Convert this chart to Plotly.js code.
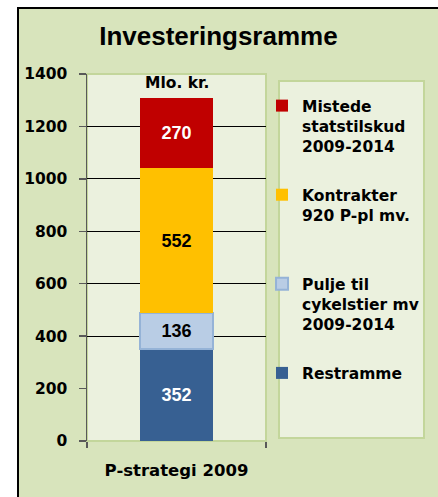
<!DOCTYPE html>
<html>
<head>
<meta charset="utf-8">
<script src="https://cdn.plot.ly/plotly-3.0.1.min.js"></script>
<style>
  html, body { margin: 0; padding: 0; background: #ffffff; }
  #frame { position: absolute; left: 17px; top: 7px; width: 419px; height: 488px;
           border-left: 2px solid #000; border-top: 2px solid #000; background: #D8E4BC; }
  #chart { width: 419px; height: 488px; }
</style>
</head>
<body>
<div id="frame"><div id="chart"></div></div>
<script>
// ---- data ----
const categories = ["P-strategi 2009"];
const seriesNames = [
  "Restramme",
  "Pulje til<br>cykelstier mv<br>2009-2014",
  "Kontrakter<br>920 P-pl mv.",
  "Mistede<br>statstilskud<br>2009-2014"
];
const restramme = [352];
const pulje = [136];
const kontrakter = [552];
const mistede = [270];
const yTickVals = [0, 200, 400, 600, 800, 1000, 1200, 1400];
const gridVals = [400, 600, 800, 1000, 1200];
const unitLabel = "Mlo. kr.";
const chartTitle = "Investeringsramme";

// ---- styles ----
const colors = ["#376092", "#B9CDE5", "#FFC000", "#C00000"];
const textColors = ["#ffffff", "#000000", "#000000", "#ffffff"];
const legendPad = ["", "<br> ", "<br> <br> ", "<br> "];
const legendRanks = [4, 3, 2, 1];
const values = [restramme, pulje, kontrakter, mistede];

const traces = values.map((v, i) => ({
  type: "bar",
  x: categories,
  y: v,
  name: seriesNames[i] + legendPad[i],
  legendgroup: "g" + i,
  legendrank: legendRanks[i],
  width: 0.41,
  marker: {
    color: colors[i],
    line: { color: i === 1 ? "#95B3D7" : colors[i], width: i === 1 ? 2 : 0 }
  },
  text: v.map(String),
  textposition: "inside",
  insidetextanchor: "middle",
  textangle: 0,
  constraintext: "none",
  textfont: { family: "Liberation Sans, Arial, sans-serif", size: 18, weight: "bold", color: textColors[i] },
  hoverinfo: "skip"
}));
traces.push({ type: "scatter", x: [], y: [], yaxis: "y2", showlegend: false, hoverinfo: "skip" });

const boldFont = { family: "DejaVu Sans, sans-serif", size: 15.5, weight: "bold", color: "#000" };

const layout = {
  width: 419, height: 488,
  margin: { l: 68, r: 172, t: 65, b: 56, autoexpand: false },
  paper_bgcolor: "#D8E4BC",
  plot_bgcolor: "#EBF1DE",
  barmode: "stack",
  showlegend: true,
  title: {
    text: chartTitle,
    font: { family: "Liberation Sans, Arial, sans-serif", size: 26, weight: "bold", color: "#000" },
    x: 0.476, xanchor: "center", xref: "container",
    y: 0.945, yanchor: "middle", yref: "container"
  },
  xaxis: {
    type: "category",
    range: [-0.5, 0.5],
    showgrid: false, zeroline: false, showline: false,
    ticks: "outside", tickson: "boundaries", ticklen: 6, tickcolor: "#595959", tickwidth: 1.5,
    tickfont: { family: "DejaVu Sans, sans-serif", size: 16.5, weight: "bold", color: "#000" },
    ticklabelstandoff: 17,
    fixedrange: true
  },
  yaxis: {
    range: [0, 1400],
    tickmode: "array", tickvals: yTickVals,
    showgrid: false, zeroline: false,
    showline: true, linecolor: "#595959", linewidth: 1.5,
    ticks: "outside", ticklen: 7, tickcolor: "#595959", tickwidth: 1.5,
    tickfont: boldFont,
    ticklabelstandoff: 8,
    fixedrange: true
  },
  yaxis2: {
    overlaying: "y", anchor: "x", side: "left",
    range: [0, 1400],
    tickmode: "array", tickvals: gridVals,
    showgrid: true, gridcolor: "#000000", gridwidth: 1,
    showticklabels: false, ticks: "", showline: false, zeroline: false,
    fixedrange: true
  },
  legend: {
    xref: "container", yref: "container",
    x: 0.58, xanchor: "left",
    y: 0.836, yanchor: "top",
    traceorder: "grouped",
    tracegroupgap: 5.5,
    maxheight: 480,
    valign: "top",
    bgcolor: "rgba(0,0,0,0)",
    borderwidth: 0,
    font: boldFont,
    itemclick: false, itemdoubleclick: false
  },
  shapes: [
    { type: "rect", xref: "paper", yref: "paper", x0: 0, x1: 1, y0: 0, y1: 1,
      line: { color: "#C3D69B", width: 2 }, layer: "below" },
    { type: "rect", xref: "paper", yref: "paper", x0: 1.0726, x1: 1.8827, y0: 0.0082, y1: 0.981,
      line: { color: "#C3D69B", width: 2 }, fillcolor: "#EBF1DE", layer: "below" }
  ],
  annotations: [
    { text: unitLabel, xref: "paper", yref: "paper", x: 0.5, y: 0.976,
      xanchor: "center", yanchor: "middle", showarrow: false, font: boldFont }
  ]
};

Plotly.newPlot("chart", traces, layout, { displayModeBar: false, staticPlot: true });
</script>
</body>
</html>
